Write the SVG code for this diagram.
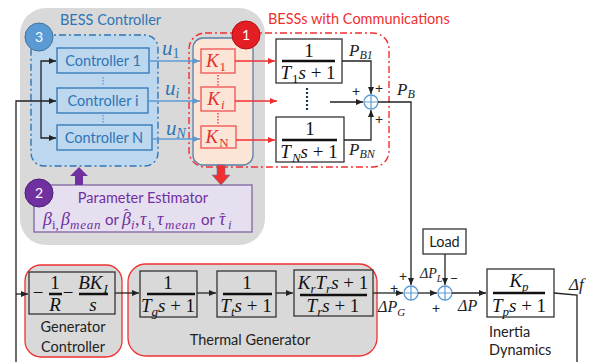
<svg xmlns="http://www.w3.org/2000/svg" width="597" height="362" viewBox="0 0 597 362">
<defs>
<marker id="ak" markerWidth="8" markerHeight="8" refX="7" refY="4" orient="auto" markerUnits="userSpaceOnUse"><path d="M0,1 L7,4 L0,7 Z" fill="#222"/></marker>
<marker id="ab" markerWidth="8" markerHeight="8" refX="7" refY="4" orient="auto" markerUnits="userSpaceOnUse"><path d="M0,1 L7,4 L0,7 Z" fill="#5b9bd5"/></marker>
<marker id="ar" markerWidth="8" markerHeight="8" refX="7" refY="4" orient="auto" markerUnits="userSpaceOnUse"><path d="M0,1 L7,4 L0,7 Z" fill="#f03030"/></marker>
<style>
.sans{font-family:Lato,"Open Sans","Liberation Sans",sans-serif}
.math{font-family:"Liberation Serif","DejaVu Serif",serif;font-style:italic}
.up{font-style:normal}
.blk{fill:none;stroke:#222;stroke-width:1.3}
.blue{fill:none;stroke:#5b9bd5;stroke-width:1.4}
.red{fill:none;stroke:#f03030;stroke-width:1.4}
.tf{fill:#fff;stroke:#333;stroke-width:1.3}
.tfg{fill:#d9d9d9;stroke:#333;stroke-width:1.3}
.bar{stroke:#111;stroke-width:2.5}
.ctl{fill:#bdd7ee;stroke:#2e75b6;stroke-width:1.3}
.ctlt{fill:#2e75b6;font-size:14.5px}
.kb{fill:#fbe5d6;stroke:#f05050;stroke-width:1.3}
.kt{fill:#e03030;font-size:19px}
.sum{fill:#fff;stroke:#5b9bd5;stroke-width:1.3}
.ft{font-size:19px;fill:#111}
.sb{font-size:13px}
.lbl{font-size:17px;fill:#222}
.pl{font-size:14px;fill:#222}
.pe{fill:#7030a0}
.pem{font-size:18px}
.pes{font-size:13px}
.hat{font-style:normal;font-size:14px}
</style>
</defs>

<g id="bess-area">
<rect x="20" y="8" width="245" height="237" rx="26" fill="#d9d9d9"/>
</g>
<g id="bess-controller">
<rect x="31" y="35" width="127" height="131" rx="13" fill="#bdd7ee" stroke="#2e75b6" stroke-width="1.4" stroke-dasharray="7,3,2,3"/>
<text class="sans" x="60" y="25" font-size="14.5" fill="#2e75b6">BESS Controller</text>
<circle cx="39" cy="37" r="14" fill="#5b9bd5" stroke="#41719c" stroke-width="1"/>
<text class="sans" x="39" y="42" font-size="14" fill="#fff" text-anchor="middle">3</text>
</g>
<g id="controller-1"><rect class="ctl" x="57" y="48" width="92" height="25"/><text class="sans ctlt" x="103" y="66" text-anchor="middle">Controller 1</text></g>
<g id="controller-i"><rect class="ctl" x="57" y="88" width="91" height="25"/><text class="sans ctlt" x="103" y="106" text-anchor="middle">Controller i</text></g>
<g id="controller-n"><rect class="ctl" x="57" y="125" width="95" height="25"/><text class="sans ctlt" x="104" y="143" text-anchor="middle">Controller N</text></g>
<g id="ctl-dots" stroke="#5b9bd5" stroke-width="1.3" stroke-dasharray="1.5,1.5"><line x1="103" y1="77" x2="103" y2="86"/><line x1="103" y1="115" x2="103" y2="123"/></g>

<g id="bess-comm">
<rect x="193" y="38" width="60" height="127" rx="10" fill="#fbe5d6" stroke="#5b7ea8" stroke-width="1.3"/>
<rect x="189" y="33" width="200" height="134" rx="16" fill="none" stroke="#f03030" stroke-width="1.4" stroke-dasharray="7,3,2,3"/>
<text class="sans" x="268" y="24" font-size="14.5" fill="#f03030">BESSs with Communications</text>
<circle cx="246" cy="35" r="14" fill="#e31e24" stroke="#b01010" stroke-width="1"/>
<text class="sans" x="246" y="40" font-size="14" fill="#fff" text-anchor="middle">1</text>
</g>
<g id="k1"><rect class="kb" x="201" y="49" width="34" height="24"/><text class="math kt" x="216" y="67" text-anchor="middle">K<tspan class="up sb" dx="1" dy="4">1</tspan></text></g>
<g id="ki"><rect class="kb" x="201" y="87" width="34" height="24"/><text class="math kt" x="216" y="105" text-anchor="middle">K<tspan class="sb" dx="1" dy="4">i</tspan></text></g>
<g id="kn"><rect class="kb" x="201" y="126" width="35" height="22"/><text class="math kt" x="217" y="143" text-anchor="middle">K<tspan class="up sb" dx="1" dy="4">N</tspan></text></g>
<g id="k-dots" stroke="#e03030" stroke-width="1.3" stroke-dasharray="1.5,1.5"><line x1="218" y1="75" x2="218" y2="86"/><line x1="218" y1="113" x2="218" y2="124"/></g>

<g id="tf-1"><rect class="tf" x="276" y="39" width="66" height="44"/><text class="math ft up" x="309" y="57" text-anchor="middle">1</text><line class="bar" x1="282" y1="61" x2="335" y2="61"/><text class="math ft" x="308" y="79" text-anchor="middle">T<tspan class="up sb" dx="1" dy="4">1</tspan><tspan dy="-4">s</tspan><tspan class="up"> + 1</tspan></text></g>
<g id="tf-n"><rect class="tf" x="276" y="117" width="68" height="45"/><text class="math ft up" x="310" y="135" text-anchor="middle">1</text><line class="bar" x1="282" y1="140" x2="337" y2="140"/><text class="math ft" x="309" y="158" text-anchor="middle">T<tspan class="sb" dx="1" dy="4">N</tspan><tspan dy="-4">s</tspan><tspan class="up"> + 1</tspan></text></g>
<g id="tf-dots"><line x1="307" y1="88" x2="307" y2="110" stroke="#1f3864" stroke-width="2.2" stroke-dasharray="2,2"/></g>

<g id="sum-b"><circle class="sum" cx="371" cy="102" r="7"/><path d="M364,102 H378 M371,95 V109" stroke="#5b9bd5" stroke-width="1.2"/></g>

<g id="param-estimator">
<rect x="34" y="185" width="218" height="47" fill="#e6dff0" stroke="#8064a2" stroke-width="1.3"/>
<text class="sans" x="143" y="203" font-size="14.5" fill="#7030a0" text-anchor="middle">Parameter Estimator</text>
<g class="pe">
<text class="math pem" x="43" y="225">β</text>
<text class="math up pes" x="52" y="229">i,</text>
<text class="math pem" x="61" y="225">β</text>
<text class="math pes" x="70" y="229" letter-spacing="0.8">mean</text>
<text class="sans" x="105" y="225" font-size="15">or</text>
<text class="math pem" x="122" y="225">β<tspan class="hat" dx="-7" dy="-6">ˆ</tspan></text>
<text class="math pes" x="131" y="229">i</text>
<text class="math up pem" x="135" y="225">,</text>
<text class="math pem" x="140" y="225">τ</text>
<text class="math up pes" x="148" y="229">i,</text>
<text class="math pem" x="157" y="225">τ</text>
<text class="math pes" x="165" y="229" letter-spacing="0.8">mean</text>
<text class="sans" x="201" y="225" font-size="15">or</text>
<text class="math pem" x="219" y="225">τ<tspan class="hat" dx="-5.2" dy="-2">ˆ</tspan></text>
<text class="math pes" x="228" y="229">i</text>
</g>
<circle cx="39" cy="193" r="14" fill="#7030a0" stroke="#4b1f70" stroke-width="1"/>
<text class="sans" x="39" y="198" font-size="14" fill="#fff" text-anchor="middle">2</text>
</g>

<g id="gen-controller">
<rect x="25" y="265" width="97" height="92" rx="16" fill="#d9d9d9" stroke="#f03030" stroke-width="1.3"/>
<rect class="tfg" x="29" y="272" width="86" height="42"/>
<text class="math ft up" x="38" y="299" text-anchor="middle">−</text>
<text class="math ft up" x="55" y="289" text-anchor="middle">1</text>
<line class="bar" x1="49" y1="294" x2="62" y2="294"/>
<text class="math ft" x="55" y="311" text-anchor="middle">R</text>
<text class="math ft up" x="68" y="299" text-anchor="middle">−</text>
<text class="math ft" x="93" y="289" text-anchor="middle">BK<tspan class="sb" dx="1" dy="4">I</tspan></text>
<line class="bar" x1="79" y1="294" x2="108" y2="294"/>
<text class="math ft" x="93" y="311" text-anchor="middle">s</text>
<text class="sans" x="73" y="332" font-size="14.5" fill="#222" text-anchor="middle">Generator</text>
<text class="sans" x="73" y="352" font-size="14.5" fill="#222" text-anchor="middle">Controller</text>
</g>

<g id="thermal-generator">
<rect x="128" y="264" width="249" height="92" rx="18" fill="#d9d9d9" stroke="#f03030" stroke-width="1.3"/>
<text class="sans" x="250" y="345" font-size="14.5" fill="#222" text-anchor="middle">Thermal Generator</text>
</g>
<g id="tf-g"><rect class="tfg" x="140" y="271" width="57" height="46"/><text class="math ft up" x="168" y="289" text-anchor="middle">1</text><line class="bar" x1="147" y1="294" x2="195" y2="294"/><text class="math ft" x="168" y="312" text-anchor="middle">T<tspan class="sb" dy="4">g</tspan><tspan dy="-4">s</tspan><tspan class="up"> + 1</tspan></text></g>
<g id="tf-t"><rect class="tfg" x="217" y="271" width="59" height="46"/><text class="math ft up" x="247" y="289" text-anchor="middle">1</text><line class="bar" x1="223" y1="294" x2="272" y2="294"/><text class="math ft" x="246" y="312" text-anchor="middle">T<tspan class="sb" dy="4">t</tspan><tspan dy="-4">s</tspan><tspan class="up"> + 1</tspan></text></g>
<g id="tf-r"><rect class="tfg" x="294" y="270" width="79" height="46"/><text class="math ft" x="333" y="289" text-anchor="middle">K<tspan class="sb" dy="4">r</tspan><tspan dy="-4">T</tspan><tspan class="sb" dy="4">r</tspan><tspan dy="-4">s</tspan><tspan class="up"> + 1</tspan></text><line class="bar" x1="300" y1="295" x2="367" y2="295"/><text class="math ft" x="333" y="312" text-anchor="middle">T<tspan class="sb" dy="4">r</tspan><tspan dy="-4">s</tspan><tspan class="up"> + 1</tspan></text></g>

<g id="sum-g"><circle class="sum" cx="411" cy="293" r="7"/><path d="M404,293 H418 M411,286 V300" stroke="#5b9bd5" stroke-width="1.2"/></g>
<g id="sum-l"><circle class="sum" cx="445" cy="293" r="7"/><path d="M438,293 H452 M445,286 V300" stroke="#5b9bd5" stroke-width="1.2"/></g>
<g id="load"><rect class="tf" x="423" y="229" width="43" height="25"/><text class="sans" x="444.5" y="247" font-size="14.5" fill="#222" text-anchor="middle">Load</text></g>
<g id="inertia"><rect class="tf" x="487" y="269" width="67" height="48"/><text class="math ft" x="519" y="287" text-anchor="middle">K<tspan class="sb" dy="4">p</tspan></text><line class="bar" x1="493" y1="293" x2="545" y2="293"/><text class="math ft" x="519" y="312" text-anchor="middle">T<tspan class="sb" dy="4">p</tspan><tspan dy="-4">s</tspan><tspan class="up"> + 1</tspan></text>
<text class="sans" x="489" y="337" font-size="14.5" fill="#222">Inertia</text><text class="sans" x="489" y="355" font-size="14.5" fill="#222">Dynamics</text></g>

<g id="connectors">
<path class="blk" d="M16,362 V101 H56" marker-end="url(#ak)"/>
<path class="blk" d="M41,101 V61 H56" marker-end="url(#ak)"/>
<path class="blk" d="M41,101 V138 H56" marker-end="url(#ak)"/>
<path class="blk" d="M16,294 H28" marker-end="url(#ak)"/>
<path class="blue" d="M149,61 H200" marker-end="url(#ab)"/>
<path class="blue" d="M148,101 H200" marker-end="url(#ab)"/>
<path class="blue" d="M152,139 H200" marker-end="url(#ab)"/>
<path class="red" d="M235,61 H275" marker-end="url(#ar)"/>
<path class="red" d="M235,101 H277" marker-end="url(#ar)"/>
<path class="red" d="M236,140 H275" marker-end="url(#ar)"/>
<path class="blk" d="M342,61 H371 V94" marker-end="url(#ak)"/>
<path class="blk" d="M330,102 H363" marker-end="url(#ak)"/>
<path class="blk" d="M344,140 H371 V110" marker-end="url(#ak)"/>
<path class="blk" d="M378,102 H411 V285" marker-end="url(#ak)"/>
<path d="M75,185 V176 H70 L79,167 L88,176 H83 V185 Z" fill="#7030a0"/>
<path d="M217,165 V175 H212 L221,185 L230,175 H225 V165 Z" fill="#f03030" stroke="#5b7ea8" stroke-width="0.6"/>
<path class="blk" d="M115,293 H139" marker-end="url(#ak)"/>
<path class="blk" d="M197,293 H216" marker-end="url(#ak)"/>
<path class="blk" d="M276,293 H293" marker-end="url(#ak)"/>
<path class="blk" d="M373,293 H403" marker-end="url(#ak)"/>
<path class="blk" d="M418,293 H437" marker-end="url(#ak)"/>
<path class="blk" d="M445,254 V285" marker-end="url(#ak)"/>
<path class="blk" d="M452,293 H486" marker-end="url(#ak)"/>
<path class="blk" d="M554,293 L577,295 V362"/>
</g>

<g id="labels">
<text class="math" x="162" y="55" font-size="21" fill="#2e75b6">u<tspan class="up" font-size="14" dy="3">1</tspan></text>
<text class="math" x="165" y="95" font-size="21" fill="#2e75b6">u<tspan font-size="14" dy="3">i</tspan></text>
<text class="math" x="166" y="135" font-size="21" fill="#2e75b6">u<tspan font-size="14" dy="3">N</tspan></text>
<text class="math lbl" x="349" y="56">P<tspan font-size="12" dy="3">B1</tspan></text>
<text class="math lbl" x="349" y="155">P<tspan font-size="12" dy="3">BN</tspan></text>
<text class="math lbl" x="397" y="95">P<tspan font-size="12" dy="3">B</tspan></text>
<text class="sans pl" x="356" y="96" text-anchor="middle">+</text>
<text class="sans pl" x="379" y="93" text-anchor="middle">+</text>
<text class="sans pl" x="379" y="124" text-anchor="middle">+</text>
<text class="sans pl" x="403" y="281" text-anchor="middle">+</text>
<text class="sans pl" x="394" y="293" text-anchor="middle">+</text>
<text class="sans pl" x="436" y="313" text-anchor="middle">+</text>
<text class="sans pl" x="454" y="283" text-anchor="middle">−</text>
<text class="math" x="378" y="312" font-size="16" fill="#222">ΔP<tspan font-size="11" dy="4">G</tspan></text>
<text class="math" x="420" y="278" font-size="14" fill="#222">ΔP<tspan font-size="10" dy="4">L</tspan></text>
<text class="math" x="458" y="311" font-size="16" fill="#222">ΔP</text>
<text class="math" x="569" y="290" font-size="17" fill="#222">Δf</text>
</g>
</svg>
